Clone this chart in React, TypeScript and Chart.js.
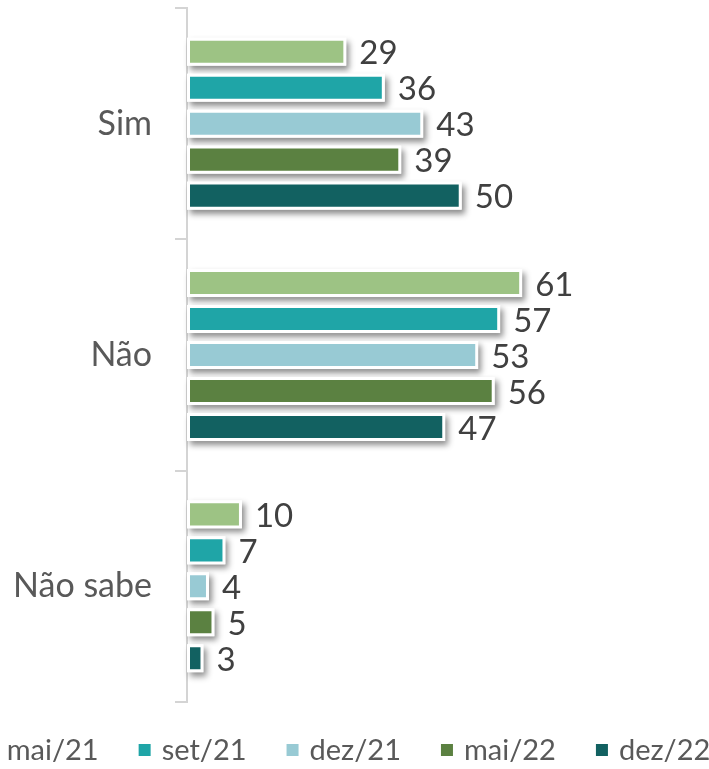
import React, { useEffect, useRef } from "react";
import { Chart, registerables } from "chart.js";

Chart.register(...registerables);

const categories = ["Sim", "Não", "Não sabe"];
const seriesNames = ["mai/21", "set/21", "dez/21", "mai/22", "dez/22"];
const mai21 = [29, 61, 10];
const set21 = [36, 57, 7];
const dez21 = [43, 53, 4];
const mai22 = [39, 56, 5];
const dez22 = [50, 47, 3];
const seriesValues = [mai21, set21, dez21, mai22, dez22];
const seriesColors = ["#9DC384", "#1FA5A7", "#98CAD4", "#5B8141", "#126161"];

const FONT = "Lato, 'DejaVu Sans', sans-serif";

const shadowPlugin = {
  id: "barShadow",
  beforeDatasetsDraw(chart: any) {
    const ctx = chart.ctx;
    ctx.save();
    ctx.shadowColor = "rgba(0,0,0,0.45)";
    ctx.shadowBlur = 6;
    ctx.shadowOffsetX = 3;
    ctx.shadowOffsetY = 4;
    ctx.fillStyle = "#ffffff";
    chart.data.datasets.forEach((_ds: any, i: number) => {
      const meta = chart.getDatasetMeta(i);
      meta.data.forEach((el: any) => {
        const { x, y, base, height } = el.getProps(["x", "y", "base", "height"], true);
        ctx.fillRect(Math.min(base, x), y - height / 2, Math.abs(x - base), height);
      });
    });
    ctx.restore();
  },
};

const valueLabelPlugin = {
  id: "valueLabels",
  afterDatasetsDraw(chart: any) {
    const ctx = chart.ctx;
    ctx.save();
    ctx.font = `33px ${FONT}`;
    ctx.fillStyle = "#404040";
    ctx.textAlign = "left";
    ctx.textBaseline = "middle";
    chart.data.datasets.forEach((ds: any, i: number) => {
      const meta = chart.getDatasetMeta(i);
      meta.data.forEach((el: any, j: number) => {
        const { x, y } = el.getProps(["x", "y"], true);
        ctx.fillText(String(ds.data[j]), x + 13, y + 2);
      });
    });
    ctx.restore();
  },
};

const legendPlugin = {
  id: "customLegend",
  afterDraw(chart: any) {
    const ctx = chart.ctx;
    ctx.save();
    ctx.font = `29px ${FONT}`;
    ctx.textBaseline = "middle";
    ctx.textAlign = "left";
    const box = 12;
    const gap = 11;
    const itemGap = 40;
    const items = chart.data.datasets.map((ds: any) => ({
      text: ds.label,
      color: ds.backgroundColor,
      w: box + gap + ctx.measureText(ds.label).width,
    }));
    const total = items.reduce((s: number, it: any) => s + it.w, 0) + itemGap * (items.length - 1);
    const center = 347;
    let x = center - total / 2;
    const y = 750;
    items.forEach((it: any) => {
      ctx.fillStyle = it.color;
      ctx.fillRect(x, y - box / 2, box, box);
      ctx.fillStyle = "#595959";
      ctx.fillText(it.text, x + box + gap, y + 1);
      x += it.w + itemGap;
    });
    ctx.restore();
  },
};

export default function App() {
  const ref = useRef<HTMLCanvasElement | null>(null);

  useEffect(() => {
    if (!ref.current) return;
    const chart = new Chart(ref.current, {
      type: "bar",
      data: {
        labels: categories,
        datasets: seriesNames.map((name, i) => ({
          label: name,
          data: seriesValues[i],
          backgroundColor: seriesColors[i],
          borderColor: "#ffffff",
          borderWidth: 3,
          borderSkipped: false,
          barPercentage: 0.78,
          categoryPercentage: 0.778,
        })),
      },
      options: {
        indexAxis: "y",
        animation: false,
        responsive: false,
        devicePixelRatio: 1,
        layout: { padding: { top: 8, bottom: 67, left: 0, right: 0 } },
        plugins: {
          legend: { display: false },
          tooltip: { enabled: false },
        },
        scales: {
          x: {
            display: false,
            min: 0,
            max: 95,
          },
          y: {
            afterFit: (axis: any) => {
              axis.width = 187;
              axis.paddingTop = 0;
              axis.paddingBottom = 0;
            },
            grid: {
              drawOnChartArea: false,
              drawTicks: true,
              tickLength: 12,
              color: "#D4D4D4",
              lineWidth: 2,
              offset: true,
            },
            border: { display: true, color: "#D4D4D4", width: 2 },
            ticks: {
              padding: 23,
              color: "#595959",
              font: { family: FONT, size: 34 },
            },
          },
        },
      },
      plugins: [shadowPlugin, valueLabelPlugin, legendPlugin],
    });
    const fonts: any = (document as any).fonts;
    if (fonts && fonts.load) {
      fonts.load(`33px Lato`).then(() => chart.update()).catch(() => {});
    }
    return () => chart.destroy();
  }, []);

  return (
    <div style={{ position: "absolute", left: 0, top: 0, width: 709, height: 769, background: "#ffffff" }}>
      <canvas ref={ref} width={709} height={769} style={{ display: "block" }} />
    </div>
  );
}
